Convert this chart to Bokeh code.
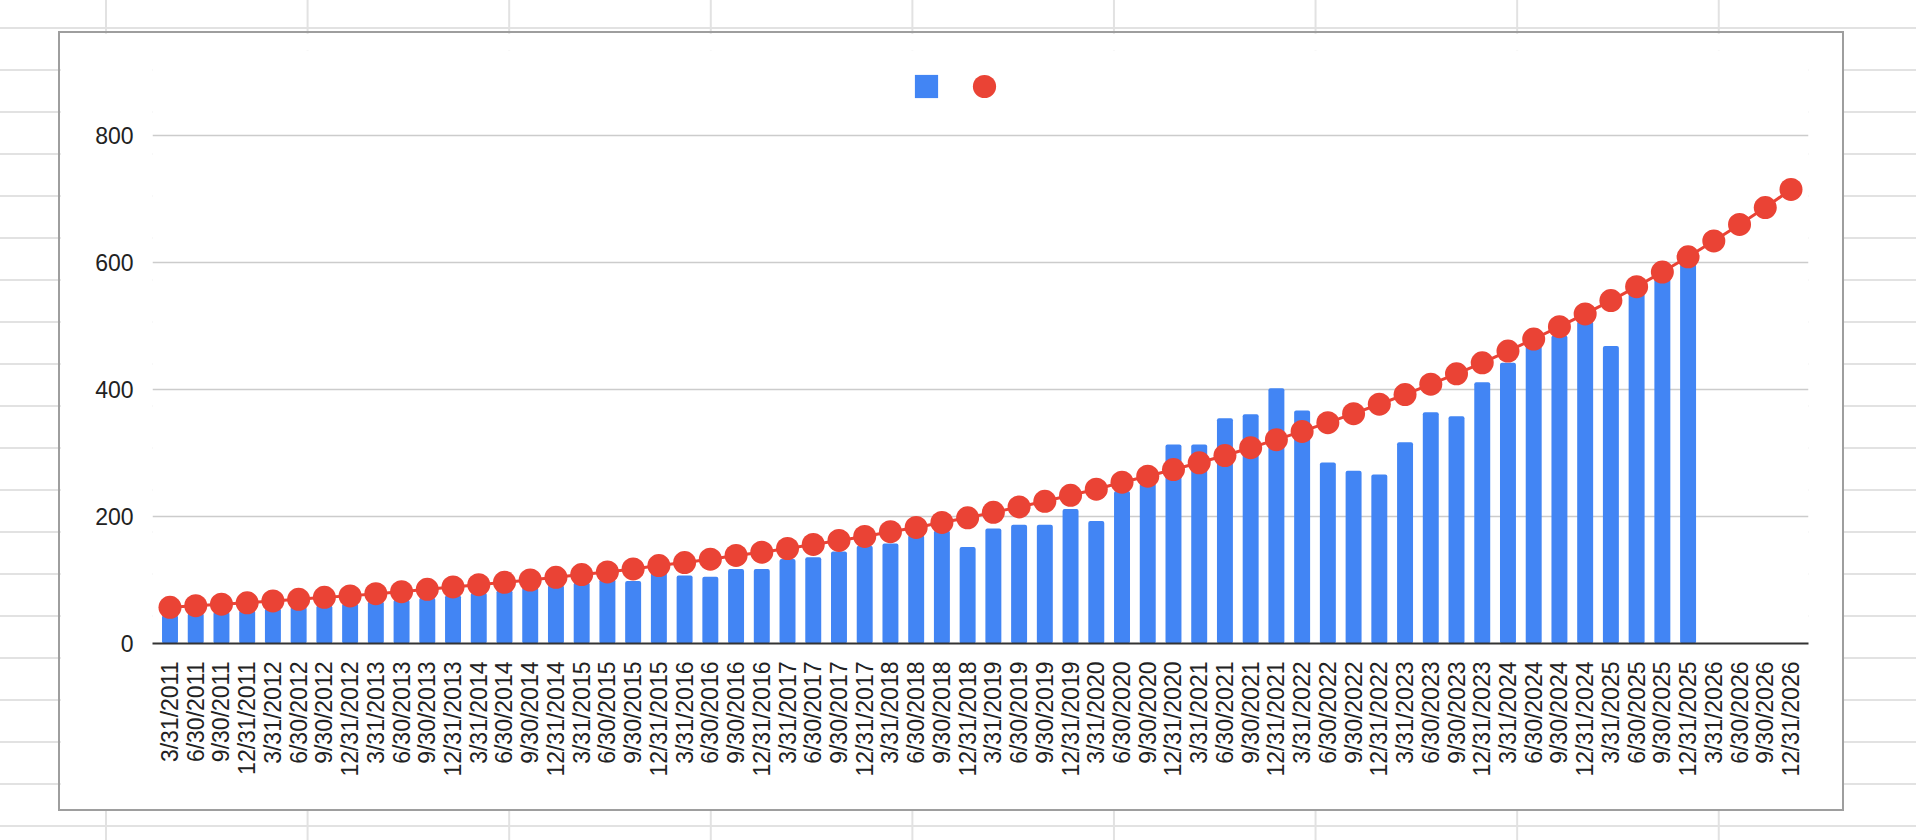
import math

from bokeh.plotting import figure
from bokeh.models import ColumnDataSource, FactorRange, Range1d, FixedTicker, Legend, LegendItem
from bokeh.layouts import column
from bokeh.embed import file_html
from bokeh.resources import INLINE

# quarter-end dates shown on the category axis
quarters = [
    "3/31/2011", "6/30/2011", "9/30/2011", "12/31/2011",
    "3/31/2012", "6/30/2012", "9/30/2012", "12/31/2012",
    "3/31/2013", "6/30/2013", "9/30/2013", "12/31/2013",
    "3/31/2014", "6/30/2014", "9/30/2014", "12/31/2014",
    "3/31/2015", "6/30/2015", "9/30/2015", "12/31/2015",
    "3/31/2016", "6/30/2016", "9/30/2016", "12/31/2016",
    "3/31/2017", "6/30/2017", "9/30/2017", "12/31/2017",
    "3/31/2018", "6/30/2018", "9/30/2018", "12/31/2018",
    "3/31/2019", "6/30/2019", "9/30/2019", "12/31/2019",
    "3/31/2020", "6/30/2020", "9/30/2020", "12/31/2020",
    "3/31/2021", "6/30/2021", "9/30/2021", "12/31/2021",
    "3/31/2022", "6/30/2022", "9/30/2022", "12/31/2022",
    "3/31/2023", "6/30/2023", "9/30/2023", "12/31/2023",
    "3/31/2024", "6/30/2024", "9/30/2024", "12/31/2024",
    "3/31/2025", "6/30/2025", "9/30/2025", "12/31/2025",
    "3/31/2026", "6/30/2026", "9/30/2026", "12/31/2026",
]

# blue bars (no values for 2026)
bar_values = [
    45, 48, 50, 52, 55, 58, 60, 63,
    66, 69, 72, 76, 80, 84, 88, 92,
    96, 101, 98.5, 112, 107, 105, 117.5, 117.5,
    133, 136, 145, 154, 157.5, 171, 178, 152,
    181, 187, 187, 212, 193, 240, 252, 313.5,
    313.5, 354.6, 361, 402, 367, 285, 272, 266,
    317, 364, 358, 411.5, 442, 469, 485, 507,
    468.5, 551, 574, 598,
]

# red trend line with markers
trend_values = [
    57, 59.5, 62, 64, 67, 69.5, 72.7, 75,
    78.5, 81.6, 85.3, 89, 92.7, 96.4, 100, 104.3,
    108.5, 112.7, 117.5, 122.7, 127.5, 132.8, 138.6, 143.8,
    149.6, 156, 162.3, 168.6, 176, 182.8, 190.7, 198,
    206.5, 215, 224, 233.4, 243, 254, 263.4, 274,
    284.6, 296, 308.3, 321, 334, 347.8, 362, 376.8,
    392, 408.4, 424.7, 442, 460.6, 479.5, 499, 519,
    540, 562, 585, 609, 634, 660, 686.6, 715,
]

y_ticks = [0, 200, 400, 600, 800]

BLUE = "#4285f4"
RED = "#ea4335"
FONT = "Liberation Sans"

bar_src = ColumnDataSource(dict(quarter=quarters[:len(bar_values)], value=bar_values))
trend_src = ColumnDataSource(dict(quarter=quarters, value=trend_values))

# the frame runs up past the 800 line so the legend can sit inside it
p = figure(
    x_range=FactorRange(factors=quarters, range_padding=0.18, range_padding_units="absolute"),
    y_range=Range1d(0, 800 * 593 / 508),
    width=1786, height=780,
    output_backend="svg", toolbar_location=None, tools="",
    min_border_left=92, min_border_right=38, min_border_top=17, min_border_bottom=170,
    background_fill_color="white", border_fill_color="white",
    outline_line_color=None,
)

p.vbar(x="quarter", top="value", width=0.62, source=bar_src,
       fill_color=BLUE, line_color=None, border_radius=2)
p.line(x="quarter", y="value", source=trend_src, line_color=RED, line_width=3)
p.scatter(x="quarter", y="value", source=trend_src, size=23,
          fill_color=RED, line_color=None)

# legend swatches (the series have no names); points sit below the y range
leg_bar = p.scatter(x=[quarters[0]], y=[-100], marker="square", fill_color=BLUE, line_color=None)
leg_dot = p.scatter(x=[quarters[0]], y=[-100], marker="circle", fill_color=RED, line_color=None)
legend = Legend(
    items=[LegendItem(label=" ", renderers=[leg_bar]), LegendItem(label=" ", renderers=[leg_dot])],
    orientation="horizontal", location=(745, 527),
    glyph_width=58, glyph_height=60, label_width=0, label_height=0,
    label_text_font_size="1px", label_standoff=0, spacing=0, padding=0, margin=0,
    border_line_color=None, background_fill_alpha=0,
)
p.add_layout(legend)

# axes
p.xaxis.major_label_orientation = math.pi / 2
p.xaxis.major_label_text_font = FONT
p.xaxis.major_label_text_font_size = "23px"
p.xaxis.major_label_text_color = "#222222"
p.xaxis.major_label_standoff = 12
p.xaxis.axis_line_color = "#333333"
p.xaxis.axis_line_width = 2
p.xaxis.major_tick_line_color = None
p.xaxis.minor_tick_line_color = None

p.yaxis.ticker = FixedTicker(ticks=y_ticks)
p.yaxis.major_label_text_font = FONT
p.yaxis.major_label_text_font_size = "23px"
p.yaxis.major_label_text_color = "#222222"
p.yaxis.major_label_standoff = 13
p.yaxis.axis_line_color = None
p.yaxis.major_tick_line_color = None
p.yaxis.minor_tick_line_color = None

p.xgrid.grid_line_color = None
p.ygrid.ticker = FixedTicker(ticks=y_ticks)
p.ygrid.grid_line_color = "#cccccc"
p.ygrid.grid_line_width = 1.5

# chart box with a grey border, sitting on a spreadsheet grid
p.margin = (31, 0, 0, 58)
p.align = "start"
p.styles = {"border": "2px solid #9e9e9e"}

page = column(p, width=1916, height=840, styles={
    "background-color": "white",
    "background-image": "linear-gradient(to right, #e2e2e2 2px, transparent 2px), "
                        "linear-gradient(to bottom, #e2e2e2 2px, transparent 2px)",
    "background-size": "201.6px 42px",
    "background-position": "105px 27px",
})

open("out.html", "w").write(file_html(page, INLINE))
